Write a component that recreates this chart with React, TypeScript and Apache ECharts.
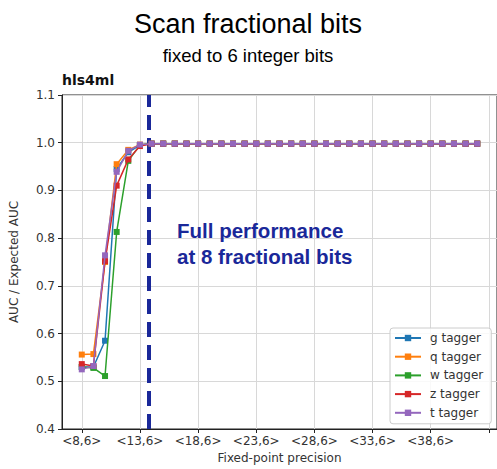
import React, { useEffect, useRef } from "react";
import * as echarts from "echarts";

// Fixed-point precision <N,6>: N total bits (x values)
const precision = [8, 9, 10, 11, 12, 13, 14, 15, 16, 17, 18, 19, 20, 21, 22, 23, 24, 25, 26, 27, 28, 29, 30, 31, 32, 33, 34, 35, 36, 37, 38, 39, 40, 41, 42];
const tickValues = [8, 13, 18, 23, 28, 33, 38, 43];
const labelValues = [8, 13, 18, 23, 28, 33, 38];

const gTagger = [0.530, 0.530, 0.585, 0.945, 0.980, 0.995, 0.998, 0.998, 0.998, 0.998, 0.998, 0.998, 0.998, 0.998, 0.998, 0.998, 0.998, 0.998, 0.998, 0.998, 0.998, 0.998, 0.998, 0.998, 0.998, 0.998, 0.998, 0.998, 0.998, 0.998, 0.998, 0.998, 0.998, 0.998, 0.998];
const qTagger = [0.556, 0.557, 0.750, 0.955, 0.985, 0.996, 0.998, 0.998, 0.998, 0.998, 0.998, 0.998, 0.998, 0.998, 0.998, 0.998, 0.998, 0.998, 0.998, 0.998, 0.998, 0.998, 0.998, 0.998, 0.998, 0.998, 0.998, 0.998, 0.998, 0.998, 0.998, 0.998, 0.998, 0.998, 0.998];
const wTagger = [0.530, 0.528, 0.511, 0.813, 0.962, 0.995, 0.998, 0.998, 0.998, 0.998, 0.998, 0.998, 0.998, 0.998, 0.998, 0.998, 0.998, 0.998, 0.998, 0.998, 0.998, 0.998, 0.998, 0.998, 0.998, 0.998, 0.998, 0.998, 0.998, 0.998, 0.998, 0.998, 0.998, 0.998, 0.998];
const zTagger = [0.536, 0.532, 0.752, 0.910, 0.965, 0.993, 0.998, 0.998, 0.998, 0.998, 0.998, 0.998, 0.998, 0.998, 0.998, 0.998, 0.998, 0.998, 0.998, 0.998, 0.998, 0.998, 0.998, 0.998, 0.998, 0.998, 0.998, 0.998, 0.998, 0.998, 0.998, 0.998, 0.998, 0.998, 0.998];
const tTagger = [0.525, 0.532, 0.764, 0.939, 0.983, 0.996, 0.998, 0.998, 0.998, 0.998, 0.998, 0.998, 0.998, 0.998, 0.998, 0.998, 0.998, 0.998, 0.998, 0.998, 0.998, 0.998, 0.998, 0.998, 0.998, 0.998, 0.998, 0.998, 0.998, 0.998, 0.998, 0.998, 0.998, 0.998, 0.998];

const seriesNames = ["g tagger", "q tagger", "w tagger", "z tagger", "t tagger"];
const seriesValues = [gTagger, qTagger, wTagger, zTagger, tTagger];
const seriesColors = ["#1f77b4", "#ff7f0e", "#2ca02c", "#d62728", "#9467bd"];

const thresholdX = 13.8;

const AXIS_FONT = "'DejaVu Sans', sans-serif";
const TITLE_FONT = "'Liberation Sans', Arial, sans-serif";
const NAVY = "#1a2899";

export default function App() {
  const ref = useRef<HTMLDivElement>(null);

  useEffect(() => {
    if (!ref.current) return;
    const chart = echarts.init(ref.current, undefined, { renderer: "svg" });

    const series: any[] = seriesNames.map((name, i) => ({
      name,
      type: "line",
      data: precision.map((p, j) => [p, seriesValues[i][j]]),
      symbol: "rect",
      symbolSize: 6,
      lineStyle: { width: 1.5, color: seriesColors[i] },
      itemStyle: { color: seriesColors[i] },
      z: 3 + i,
    }));

    series.push({
      name: "threshold",
      type: "line",
      data: [],
      markLine: {
        silent: true,
        symbol: ["none", "none"],
        label: { show: false },
        lineStyle: { color: NAVY, width: 4, type: [15, 8] },
        data: [{ xAxis: thresholdX }],
      },
      z: 10,
    });

    chart.setOption({
      animation: false,
      backgroundColor: "#ffffff",
      grid: {
        left: 61,
        top: 95,
        right: -1,
        bottom: 37,
        show: true,
        borderColor: "#222",
        borderWidth: 1,
      },
      xAxis: {
        type: "value",
        min: 6.3,
        max: 43.7,
        name: "Fixed-point precision",
        nameLocation: "middle",
        nameGap: 23,
        nameTextStyle: { fontFamily: AXIS_FONT, fontSize: 12, color: "#333" },
        axisLine: { show: true, lineStyle: { color: "#222" } },
        axisTick: { show: true, length: 4, customValues: tickValues, lineStyle: { color: "#222" } },
        axisLabel: {
          customValues: labelValues,
          formatter: (v: number) => `<${v},6>`,
          fontFamily: AXIS_FONT,
          fontSize: 12,
          color: "#333",
          margin: 6,
        },
        splitLine: { show: true, lineStyle: { color: "#d8d8d8", width: 1 } },
      },
      yAxis: {
        type: "value",
        min: 0.4,
        max: 1.1,
        interval: 0.1,
        name: "AUC / Expected AUC",
        nameLocation: "middle",
        nameGap: 42,
        nameTextStyle: { fontFamily: AXIS_FONT, fontSize: 12, color: "#333" },
        axisLine: { show: true, lineStyle: { color: "#222" } },
        axisTick: { show: true, length: 4, lineStyle: { color: "#222" } },
        axisLabel: {
          formatter: (v: number) => v.toFixed(1),
          fontFamily: AXIS_FONT,
          fontSize: 12,
          color: "#333",
          margin: 7,
        },
        splitLine: { show: true, lineStyle: { color: "#d8d8d8", width: 1 } },
      },
      legend: {
        data: seriesNames,
        orient: "vertical",
        left: 390,
        top: 328,
        padding: [4, 8, 5, 4],
        itemWidth: 26,
        itemHeight: 8,
        itemGap: 6.7,
        borderColor: "#cccccc",
        borderWidth: 1,
        borderRadius: 3,
        backgroundColor: "rgba(255,255,255,0.85)",
        textStyle: {
          fontFamily: AXIS_FONT,
          fontSize: 12,
          color: "#333",
          lineHeight: 12,
          padding: [0, 0, 0, 4],
        },
      },
      graphic: [
        {
          type: "text",
          x: 248,
          y: 23.5,
          style: {
            text: "Scan fractional bits",
            fontFamily: TITLE_FONT,
            fontSize: 27,
            fill: "#000",
            textAlign: "center",
            textVerticalAlign: "middle",
          },
        },
        {
          type: "text",
          x: 248,
          y: 55.5,
          style: {
            text: "fixed to 6 integer bits",
            fontFamily: TITLE_FONT,
            fontSize: 18.5,
            fill: "#000",
            textAlign: "center",
            textVerticalAlign: "middle",
          },
        },
        {
          type: "text",
          x: 62,
          y: 80,
          style: {
            text: "hls4ml",
            fontFamily: AXIS_FONT,
            fontWeight: "bold",
            fontSize: 14,
            fill: "#111",
            textAlign: "left",
            textVerticalAlign: "middle",
          },
        },
        {
          type: "text",
          x: 177,
          y: 218,
          z: 100,
          style: {
            text: "Full performance\nat 8 fractional bits",
            fontFamily: TITLE_FONT,
            fontWeight: "bold",
            fontSize: 20.5,
            lineHeight: 25.6,
            fill: NAVY,
            textAlign: "left",
            textVerticalAlign: "top",
          },
        },
      ],
      series,
    });

    return () => chart.dispose();
  }, []);

  return (
    <div
      ref={ref}
      style={{ position: "fixed", left: 0, top: 0, width: 497, height: 469 }}
    />
  );
}
